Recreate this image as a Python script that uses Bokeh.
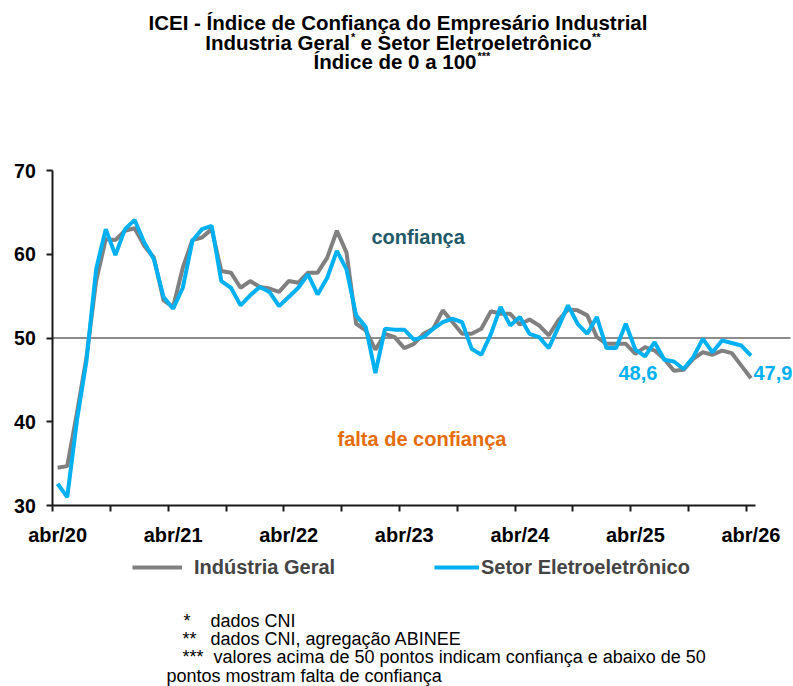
from bokeh.plotting import figure
from bokeh.models import Range1d, FixedTicker, Label, Legend, LegendItem, ColumnDataSource
from bokeh.embed import file_html
from bokeh.resources import INLINE

# ---------------- data ----------------
meses_abrev = ["jan", "fev", "mar", "abr", "mai", "jun", "jul", "ago", "set", "out", "nov", "dez"]
meses = []
for k in range(73):
    m = (3 + k) % 12
    a = 20 + (3 + k) // 12
    meses.append(f"{meses_abrev[m]}/{a:02d}")

industria_geral = [
    34.5, 34.7, 41.0, 47.7, 56.8, 61.8, 61.7, 62.8, 63.1, 61.0, 59.6, 54.5,
    53.7, 58.4, 61.7, 62.0, 63.0, 58.0, 57.8, 56.0, 56.8, 56.1, 55.9, 55.5,
    56.8, 56.6, 57.8, 57.8, 59.6, 62.8, 60.2, 51.7, 50.9, 48.6, 50.5, 50.1,
    48.8, 49.3, 50.5, 51.1, 53.3, 51.9, 50.5, 50.5, 51.1, 53.2, 52.9, 52.9,
    51.6, 52.2, 51.5, 50.3, 52.1, 53.4, 53.3, 52.7, 50.1, 49.3, 49.3, 49.3,
    48.1, 48.9, 48.5, 47.5, 46.1, 46.2, 47.5, 48.3, 48.0, 48.5, 48.2, 46.7,
    45.2,
]
eletroeletronico = [
    32.6, 31.0, 40.1, 47.3, 58.2, 63.0, 59.9, 63.0, 64.1, 61.4, 59.4, 54.9,
    53.5, 56.0, 61.6, 63.0, 63.4, 56.8, 56.0, 53.9, 55.1, 56.1, 55.5, 53.8,
    54.9, 56.0, 57.6, 55.2, 57.2, 60.4, 58.2, 52.7, 51.3, 45.8, 51.1, 51.0,
    51.0, 49.8, 50.1, 51.1, 51.9, 52.3, 51.9, 48.7, 48.0, 50.5, 53.7, 51.5,
    52.5, 50.5, 50.1, 48.8, 51.3, 53.9, 51.7, 50.5, 52.5, 48.8, 48.8, 51.7,
    48.6, 47.8, 49.5, 47.4, 47.2, 46.3, 47.7, 49.9, 48.3, 49.7, 49.4, 49.1,
    47.9,
]
tick_labels = ["abr/20", "abr/21", "abr/22", "abr/23", "abr/24", "abr/25", "abr/26"]
y_ticks = [30, 40, 50, 60, 70]
y_min, y_max, linha_ref = 30, 70, 50
destaques = [(60, "48,6"), (72, "47,9")]

# ---------------- layout (canvas pixels) ----------------
W, H = 793, 686
X0_PX = 57.1        # pixel of first month
PX_MES = 9.63       # pixels per month
Y_BOT_PX, Y_TOP_PX = 505, 170
PX_UN = (Y_BOT_PX - Y_TOP_PX) / (y_max - y_min)


def fx(px):
    return (px - X0_PX) / PX_MES


def fy(py):
    return y_min + (Y_BOT_PX - py) / PX_UN


x_idx = list(range(len(meses)))
src = ColumnDataSource(dict(x=x_idx, mes=meses, ig=industria_geral, ee=eletroeletronico))

p = figure(width=W, height=H, output_backend="svg", toolbar_location=None,
           x_range=Range1d(fx(0), fx(W)), y_range=Range1d(fy(H), fy(0)),
           min_border=0)
p.outline_line_color = None
p.grid.visible = False
p.background_fill_color = "white"
p.border_fill_color = "white"

FONT = "Liberation Sans"

# reference line at 50
p.segment(x0=[-0.5], y0=[linha_ref], x1=[fx(790)], y1=[linha_ref], line_color="#8c8c8c", line_width=2)

r_ig = p.line("x", "ig", source=src, line_color="#808080", line_width=4)
r_ee = p.line("x", "ee", source=src, line_color="#00B0F0", line_width=4)

# x axis
tick_pos = [12 * k for k in range(len(tick_labels))]
xa = p.xaxis[0]
xa.fixed_location = y_min
xa.ticker = FixedTicker(ticks=tick_pos, minor_ticks=[-0.5 + 6 * k for k in range(13)])
xa.major_label_overrides = {t: l for t, l in zip(tick_pos, tick_labels)}
xa.bounds = (-0.5, 72.5)
xa.major_tick_out = 0
xa.major_tick_in = 0
xa.minor_tick_out = 6
xa.minor_tick_in = 0
xa.minor_tick_line_width = 2
xa.minor_tick_line_color = "#1a1a1a"
xa.axis_line_width = 2
xa.axis_line_color = "#1a1a1a"
xa.major_label_standoff = 12
xa.major_label_text_font = FONT
xa.major_label_text_font_style = "bold"
xa.major_label_text_font_size = "20px"
xa.major_label_text_color = "black"

ya = p.yaxis[0]
ya.fixed_location = -0.5
ya.bounds = (y_min, y_max)
ya.ticker = FixedTicker(ticks=y_ticks, minor_ticks=[])
ya.major_tick_out = 6
ya.major_tick_in = 0
ya.major_tick_line_width = 2
ya.major_tick_line_color = "#1a1a1a"
ya.axis_line_width = 2
ya.axis_line_color = "#1a1a1a"
ya.major_label_standoff = 11
ya.major_label_text_font = FONT
ya.major_label_text_font_style = "bold"
ya.major_label_text_font_size = "19.5px"
ya.major_label_text_color = "black"


def label(px, py, text, size="20px", style="bold", color="black", align="left"):
    p.add_layout(Label(x=fx(px), y=fy(py), text=text, text_font=FONT, text_font_size=size,
                       text_font_style=style, text_color=color, text_align=align,
                       text_baseline="middle"))


# title
TS = "20.5px"
label(397.5, 22, "ICEI - Índice de Confiança do Empresário Industrial", size=TS, align="center")
label(349.5, 42, "Industria Geral", size=TS, align="right")
label(350.5, 36, "*", size="11px")
label(360, 42, "e Setor Eletroeletrônico", size=TS)
label(591.5, 36, "**", size="11px")
label(476, 61, "Índice de 0 a 100", size=TS, align="right")
label(477, 55, "***", size="11px")

# zone labels
label(371, 236, "confiança", color="#215968")
label(337, 438, "falta de confiança", color="#E46C0A")

# value highlights
label(618, 372, destaques[0][1], color="#00B0F0")
label(753, 372, destaques[1][1], color="#00B0F0")

# legends
common = dict(orientation="horizontal", glyph_height=24, label_height=24, padding=0, margin=0,
              border_line_alpha=0, background_fill_alpha=0, label_text_font=FONT,
              label_text_font_style="bold", label_text_font_size="20px")
legA = Legend(items=[LegendItem(label="Indústria Geral", renderers=[r_ig])],
              location=(132, H - 579), glyph_width=50, label_standoff=12, **common)
legB = Legend(items=[LegendItem(label="Setor Eletroeletrônico", renderers=[r_ee])],
              location=(434, H - 579), glyph_width=45, label_standoff=2, **common)
p.add_layout(legA)
p.add_layout(legB)

# footnotes
label(183, 620, "*", size="18px", style="normal")
label(210, 620, "dados CNI", size="18px", style="normal")
label(182, 638, "**", size="18px", style="normal")
label(210, 638, "dados CNI, agregação ABINEE", size="18px", style="normal")
label(182, 656, "***", size="18px", style="normal")
label(213, 656, "valores acima de 50 pontos indicam confiança e abaixo de 50", size="18px", style="normal")
label(166, 675, "pontos mostram falta de confiança", size="18px", style="normal")

open("out.html", "w").write(file_html(p, INLINE))
